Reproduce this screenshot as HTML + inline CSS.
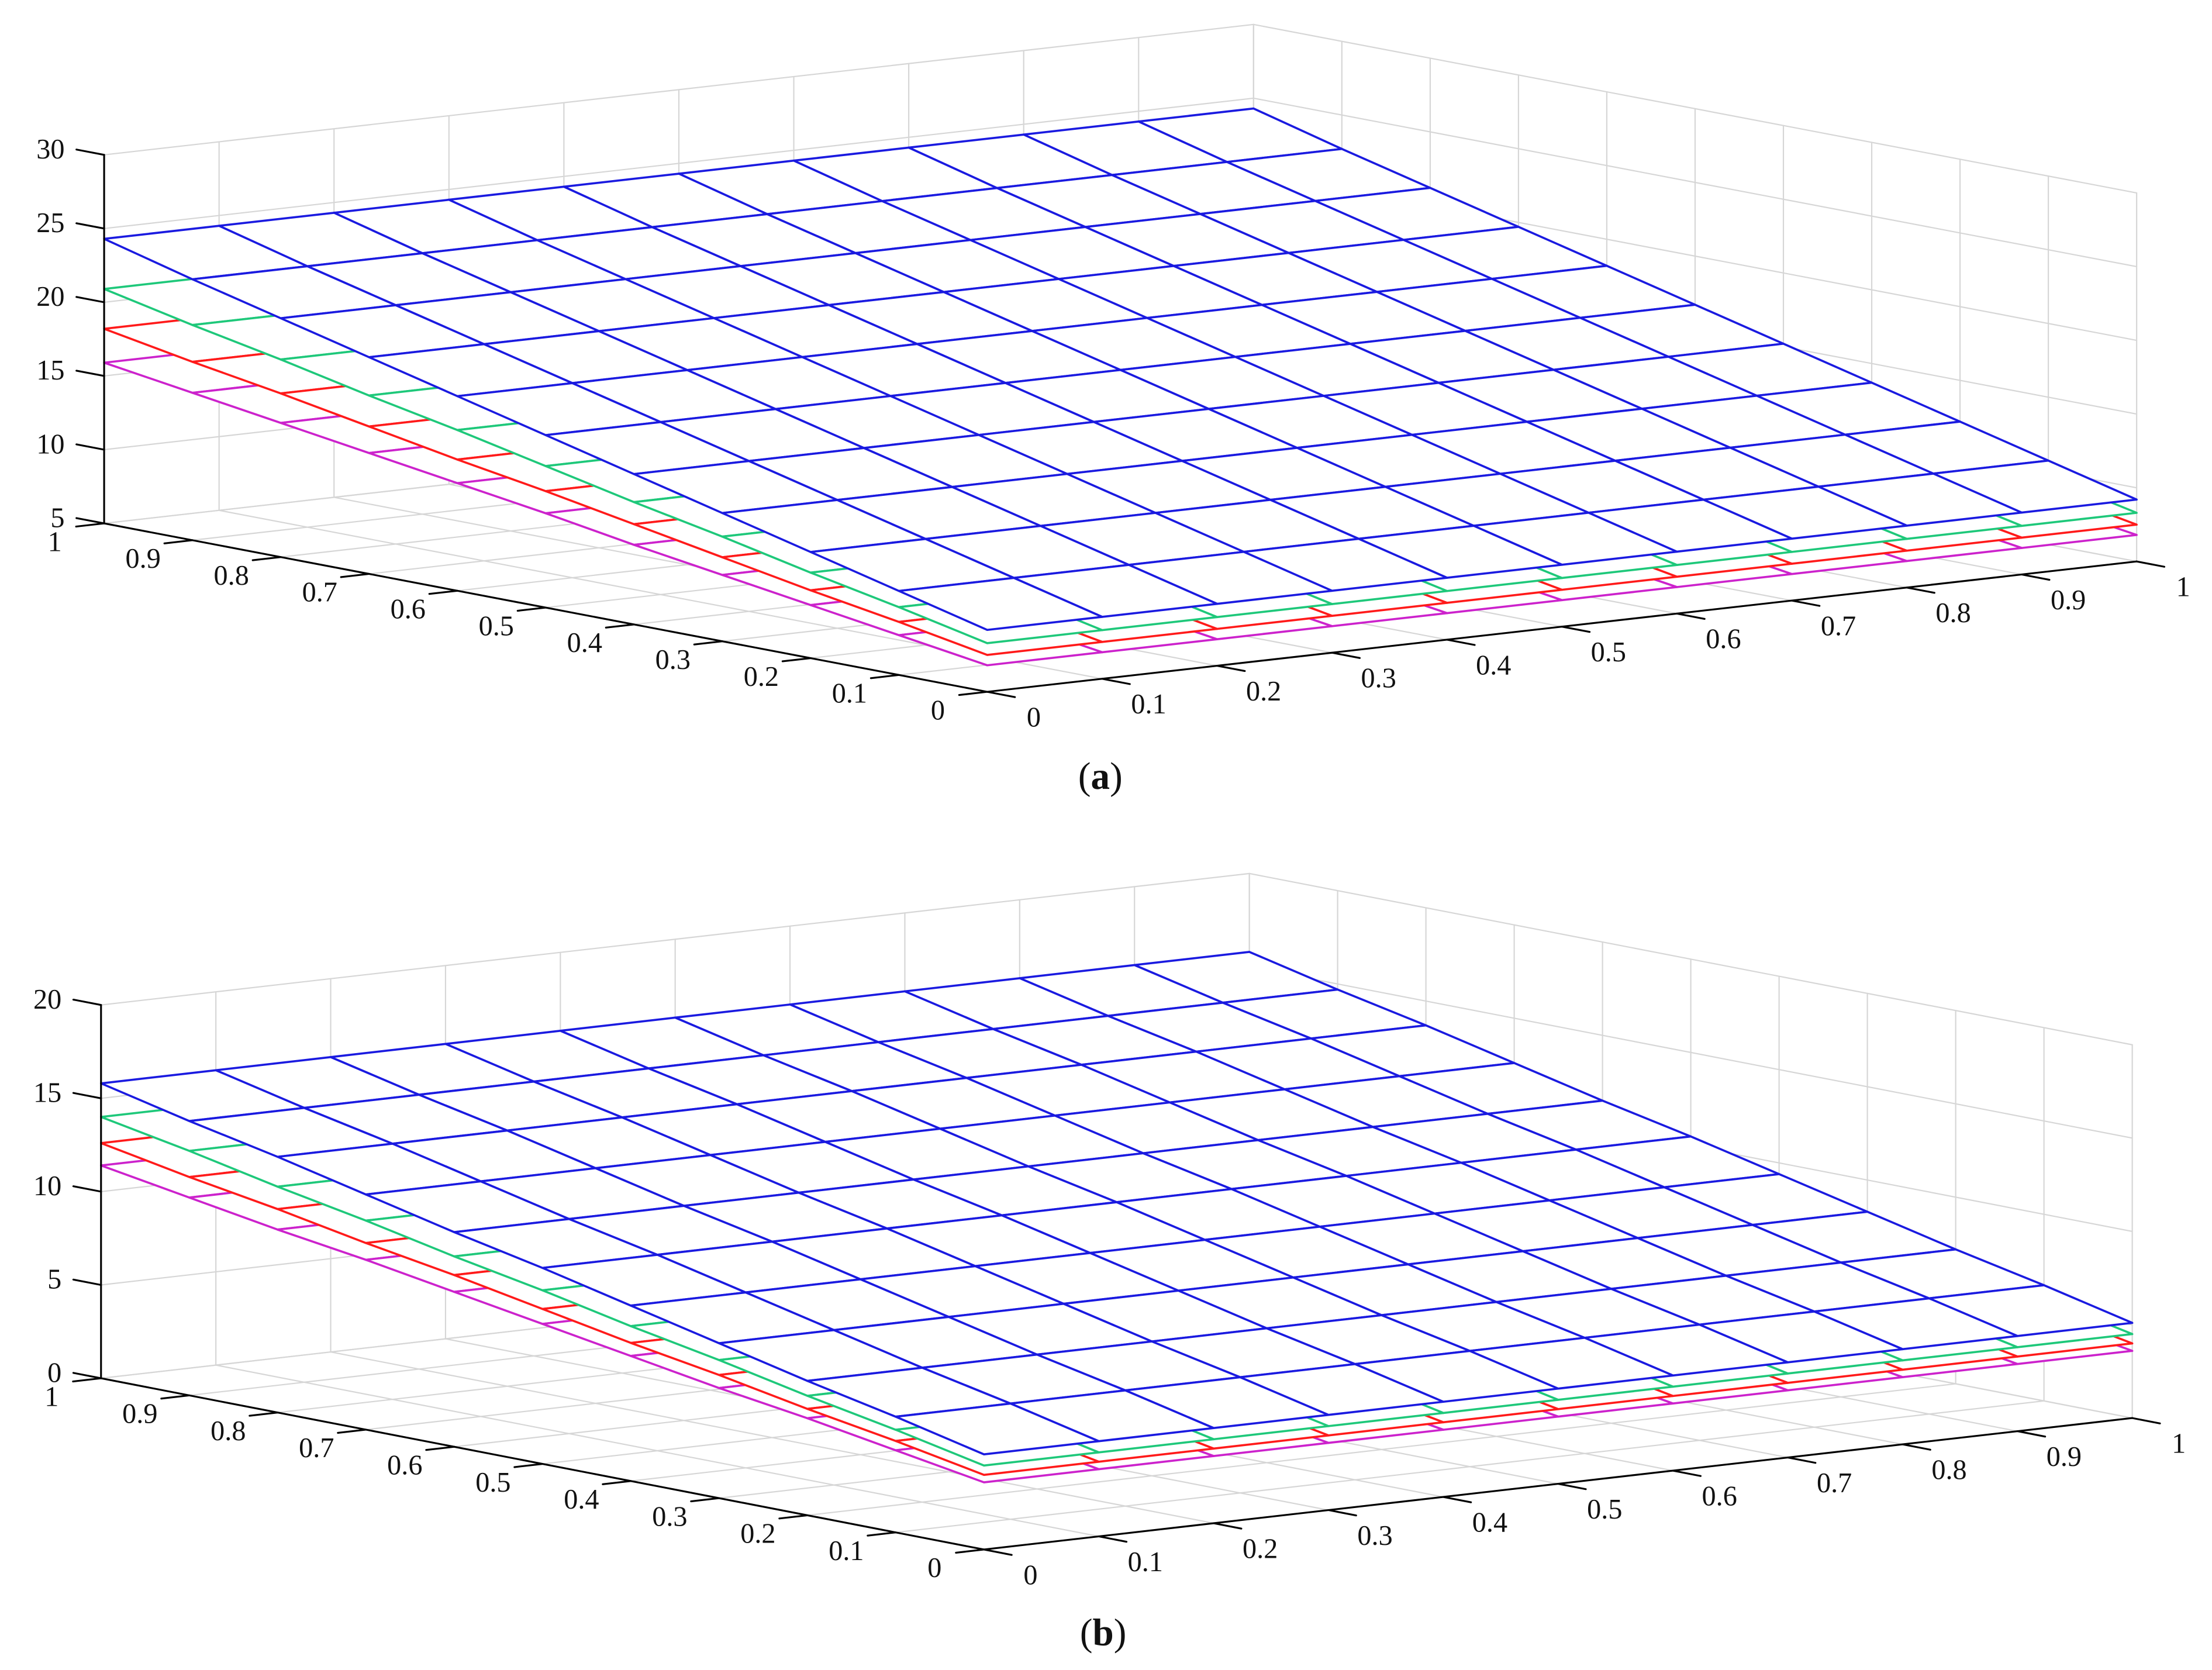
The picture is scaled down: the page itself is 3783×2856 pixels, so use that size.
<!DOCTYPE html>
<html><head><meta charset="utf-8">
<style>
html,body{margin:0;padding:0;background:#fff;}
svg{display:block;}
text{font-family:"Liberation Serif",serif;fill:#111;}
</style></head>
<body>
<svg id="fig" width="3783" height="2856" viewBox="0 0 1568 1183.8" xmlns="http://www.w3.org/2000/svg">
<rect x="0" y="0" width="1568" height="1184" fill="#fff"/>
</svg>
<script>
// shared grid coordinates
const uTicks = [0,0.1,0.2,0.3,0.4,0.5,0.6,0.7,0.8,0.9,1];
const vTicks = [0,0.1,0.2,0.3,0.4,0.5,0.6,0.7,0.8,0.9,1];
const tickLabels = ["0","0.1","0.2","0.3","0.4","0.5","0.6","0.7","0.8","0.9","1"];
// chart (a) surfaces: z along v (constant along u)
const zTicksA = [5,10,15,20,25,30];
const aBlue    = [9.2,10.7,12.2,13.7,15.2,16.7,18.2,19.7,21.2,22.7,24.3];
const aGreen   = [8.3,9.6,10.8,12.1,13.3,14.6,15.9,17.1,18.4,19.6,20.9];
const aRed     = [7.5,8.6,9.6,10.7,11.8,12.9,13.9,15.0,16.1,17.1,18.2];
const aMagenta = [6.8,7.7,8.6,9.5,10.4,11.4,12.3,13.2,14.1,15.0,15.9];
// chart (b)
const zTicksB = [0,5,10,15,20];
const bBlue    = [5.1,6.2,7.2,8.3,9.4,10.5,11.5,12.6,13.7,14.7,15.8];
const bGreen   = [4.5,5.5,6.4,7.4,8.3,9.3,10.2,11.2,12.1,13.1,14.0];
const bRed     = [4.0,4.9,5.7,6.6,7.4,8.3,9.2,10.0,10.9,11.7,12.6];
const bMagenta = [3.6,4.4,5.2,5.9,6.7,7.5,8.3,9.1,9.8,10.6,11.4];

const NS = "http://www.w3.org/2000/svg";
const svg = document.getElementById('fig');
function mk(tag, attrs, parent){
  const e = document.createElementNS(NS, tag);
  for (const k in attrs) e.setAttribute(k, attrs[k]);
  (parent||svg).appendChild(e);
  return e;
}

function drawChart(cfg){
  const g = mk('g', {});
  
  
  const F = cfg.front, A = cfg.A, B = cfg.B;
  const zmin = cfg.zTicks[0], zmax = cfg.zTicks[cfg.zTicks.length-1];
  function P(u, v, z){
    return [F[0] + u*A[0] + v*B[0], F[1] + u*A[1] + v*B[1] - (z - zmin)*cfg.zs];
  }
  function line(p, q, stroke, w, parent, name){
    const l = mk('line', {x1:p[0], y1:p[1], x2:q[0], y2:q[1], stroke:stroke, 'stroke-width':w, 'stroke-linecap':'round'}, parent);
    
    
    return l;
  }
  const grid = mk('g', {}, g);
  
  
  const gc = '#d6d6d6', gw = 0.9;
  uTicks.forEach(u => {
    line(P(u,1,zmin), P(u,1,zmax), gc, gw, grid, 'back-wall-gridline');
    line(P(u,0,zmin), P(u,1,zmin), gc, gw, grid, 'floor-gridline');
  });
  vTicks.forEach(v => {
    line(P(1,v,zmin), P(1,v,zmax), gc, gw, grid, 'side-wall-gridline');
    line(P(0,v,zmin), P(1,v,zmin), gc, gw, grid, 'floor-gridline');
  });
  cfg.zTicks.forEach(z => {
    line(P(0,1,z), P(1,1,z), gc, gw, grid, 'back-wall-gridline');
    line(P(1,0,z), P(1,1,z), gc, gw, grid, 'side-wall-gridline');
  });
  cfg.series.forEach(s => {
    const sg = mk('g', {}, g);
    
    
    for (let j = vTicks.length - 2; j >= 0; j--){
      for (let i = uTicks.length - 2; i >= 0; i--){
        const u0 = uTicks[i], u1 = uTicks[i+1], v0 = vTicks[j], v1 = vTicks[j+1];
        const pts = [P(u0,v0,s.z[j]), P(u1,v0,s.z[j]), P(u1,v1,s.z[j+1]), P(u0,v1,s.z[j+1])];
        const q = mk('polygon', {points: pts.map(p=>p.join(',')).join(' '), fill:'#fff', stroke:s.color, 'stroke-width':1.5, 'stroke-linejoin':'round'}, sg);
        
        
      }
    }
  });
  const ax = mk('g', {}, g);
  
  
  line(P(0,1,zmin), P(0,1,zmax), '#000', 1.3, ax, 'z-axis-line');
  line(P(0,0,zmin), P(0,1,zmin), '#000', 1.3, ax, 'y-axis-line');
  line(P(0,0,zmin), P(1,0,zmin), '#000', 1.3, ax, 'x-axis-line');
  const lenA = Math.hypot(A[0],A[1]), lenB = Math.hypot(B[0],B[1]);
  const tl = 20;
  const dA = [-A[0]/lenA*tl, -A[1]/lenA*tl];
  const dB = [-B[0]/lenB*tl, -B[1]/lenB*tl];
  const dBo = [B[0]/lenB*tl, B[1]/lenB*tl];
  vTicks.forEach((v, k) => {
    const p = P(0,v,zmin);
    line(p, [p[0]+dA[0], p[1]+dA[1]], '#000', 1.3, ax, 'y-tick');
    const t = mk('text', {x:p[0]-35, y:p[1]+15, 'font-size':20, 'text-anchor':'middle', 'dominant-baseline':'middle'}, ax);
    
    
    t.textContent = tickLabels[k];
  });
  uTicks.forEach((u, k) => {
    const p = P(u,0,zmin);
    line(p, [p[0]+dB[0], p[1]+dB[1]], '#000', 1.3, ax, 'x-tick');
    const t = mk('text', {x:p[0]+33, y:p[1]+20, 'font-size':20, 'text-anchor':'middle', 'dominant-baseline':'middle'}, ax);
    
    
    t.textContent = tickLabels[k];
  });
  cfg.zTicks.forEach(z => {
    const p = P(0,1,z);
    line(p, [p[0]+dBo[0], p[1]+dBo[1]], '#000', 1.3, ax, 'z-tick');
    const t = mk('text', {x:p[0]-28, y:p[1]-2, 'font-size':20, 'text-anchor':'end', 'dominant-baseline':'middle'}, ax);
    
    
    t.textContent = String(z);
  });
  const cap = mk('text', {x:cfg.cap[0], y:cfg.cap[1], 'font-size':27, 'text-anchor':'middle', 'dominant-baseline':'middle'}, g);
  
  
  const t1 = mk('tspan', {}, cap); t1.textContent = '(';
  const t2 = mk('tspan', {'font-weight':'bold'}, cap); t2.textContent = cfg.letter;
  const t3 = mk('tspan', {}, cap); t3.textContent = ')';
}

drawChart({
  name: 'chart-a', front: [699.8, 490.4], A: [814.8, -92.4], B: [-626.0, -119.4],
  zs: 10.45, zTicks: zTicksA, cap: [780, 553], letter: 'a',
  series: [
    {name:'surface-magenta', color:'#cc22cc', z:aMagenta},
    {name:'surface-red', color:'#ff1a1a', z:aRed},
    {name:'surface-green', color:'#1ec87a', z:aGreen},
    {name:'surface-blue', color:'#1a1ae0', z:aBlue}
  ]
});
drawChart({
  name: 'chart-b', front: [697.5, 1098.4], A: [814.0, -93.2], B: [-625.9, -121.4],
  zs: 13.23, zTicks: zTicksB, cap: [782, 1160], letter: 'b',
  series: [
    {name:'surface-magenta', color:'#cc22cc', z:bMagenta},
    {name:'surface-red', color:'#ff1a1a', z:bRed},
    {name:'surface-green', color:'#1ec87a', z:bGreen},
    {name:'surface-blue', color:'#1a1ae0', z:bBlue}
  ]
});
</script>
</body></html>
